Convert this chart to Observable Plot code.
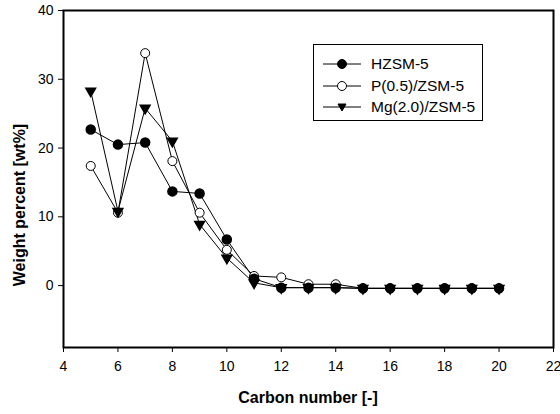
<!DOCTYPE html>
<html><head><meta charset="utf-8">
<script src="https://cdn.jsdelivr.net/npm/d3@7"></script>
<script src="https://cdn.jsdelivr.net/npm/@observablehq/plot@0.6"></script>
<style>
body{margin:0;background:#fff;font-family:"Liberation Sans",Arial,sans-serif;}
#wrap{position:relative;width:560px;height:414px;}
.ttl{position:absolute;font-weight:bold;font-size:16px;color:#000;white-space:nowrap;}
#legend{position:absolute;left:313px;top:44px;width:170px;height:77px;border:1px solid #000;box-sizing:border-box;background:#fff;}
.lr{position:absolute;left:9px;display:flex;align-items:center;font-size:15.5px;}
.lr svg{margin-right:10px;}
</style></head>
<body><div id="wrap"></div>
<script>
const carbon = [5,6,7,8,9,10,11,12,13,14,15,16,17,18,19,20];
const hzsm5 = [22.7,20.5,20.8,13.7,13.4,6.7,1.0,-0.3,-0.3,-0.3,-0.4,-0.4,-0.4,-0.4,-0.4,-0.4];
const p05zsm5 = [17.4,10.6,33.8,18.1,10.6,5.2,1.4,1.2,0.2,0.2,-0.4,-0.4,-0.4,-0.4,-0.4,-0.4];
const mg20zsm5 = [28.3,10.8,25.8,21.0,8.9,4.0,0.4,-0.3,-0.3,-0.3,-0.4,-0.4,-0.4,-0.4,-0.4,-0.4];
const seriesNames = ["HZSM-5","P(0.5)/ZSM-5","Mg(2.0)/ZSM-5"];
const xTicks = [4,6,8,10,12,14,16,18,20,22];
const yTicks = [0,10,20,30,40];

const mk = (vals) => carbon.map((c,i)=>({c, v: vals[i]}));
const dH = mk(hzsm5), dP = mk(p05zsm5), dM = mk(mg20zsm5);

const chart = Plot.plot({
  width: 560, height: 414,
  marginLeft: 63, marginRight: 7, marginTop: 10, marginBottom: 67,
  style: {fontFamily: '"Liberation Sans", Arial, sans-serif', fontSize: "14px", color: "#000", background: "#fff"},
  x: {domain: [4,22], ticks: xTicks, label: null, tickSize: 5, tickPadding: 9},
  y: {domain: [-9,40], ticks: yTicks, label: null, tickSize: 5, tickPadding: 5},
  marks: [
    Plot.line(dM, {x:"c", y:"v", stroke:"#000", strokeWidth:1}),
    Plot.line(dP, {x:"c", y:"v", stroke:"#000", strokeWidth:1}),
    Plot.line(dH, {x:"c", y:"v", stroke:"#000", strokeWidth:1}),
    Plot.dot(dP, {x:"c", y:"v", r:4.5, fill:"#fff", stroke:"#000", strokeWidth:1}),
    Plot.dot(dM, {x:"c", y:"v", symbol:"triangle", r:3.6, rotate:180, fill:"#000", stroke:"#000"}),
    Plot.dot(dH, {x:"c", y:"v", r:4.5, fill:"#000", stroke:"#000"}),
    Plot.frame({stroke:"#000", strokeWidth:2})
  ]
});
const wrap = document.getElementById("wrap");
wrap.appendChild(chart);

const xl = document.createElement("div");
xl.className = "ttl"; xl.textContent = "Carbon number [-]";
xl.style.left = "308px"; xl.style.top = "389px"; xl.style.transform = "translateX(-50%)";
wrap.appendChild(xl);
const yl = document.createElement("div");
yl.className = "ttl"; yl.textContent = "Weight percent [wt%]";
yl.style.left = "20px"; yl.style.top = "205px"; yl.style.transform = "translate(-50%,-50%) rotate(-90deg)";
wrap.appendChild(yl);

const leg = document.createElement("div"); leg.id = "legend";
const sym = [
  '<circle cx="19" cy="6" r="4.5" fill="#000" stroke="#000"/>',
  '<circle cx="19" cy="6" r="4.5" fill="#fff" stroke="#000"/>',
  '<path d="M15,3 L23,3 L19,10 Z" fill="#000" stroke="#000"/>'
];
seriesNames.forEach((n,i)=>{
  const r = document.createElement("div"); r.className = "lr";
  r.style.top = (10 + i*21.5) + "px";
  r.innerHTML = '<svg width="38" height="12"><line x1="0" x2="38" y1="6" y2="6" stroke="#000"/>' + sym[i] + '</svg><span>' + n + '</span>';
  leg.appendChild(r);
});
wrap.appendChild(leg);
</script></body></html>
